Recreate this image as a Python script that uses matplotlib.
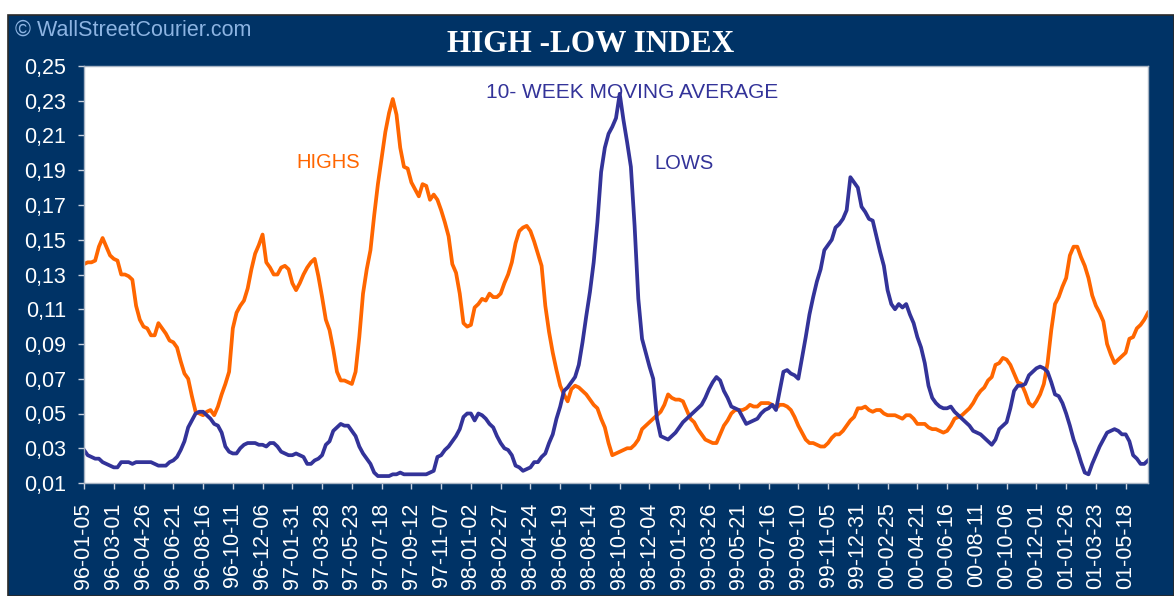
import numpy as np
import matplotlib
matplotlib.use("Agg")
import matplotlib.pyplot as plt
from matplotlib.patches import Rectangle

# ── DATA (10-week moving average, weekly from 96-01-05) ─────────────────────
highs = [
    0.136, 0.137, 0.137, 0.138, 0.146, 0.151, 0.146, 0.141, 0.139, 0.138,
    0.130, 0.130, 0.129, 0.127, 0.112, 0.104, 0.100, 0.099, 0.095, 0.095,
    0.102, 0.099, 0.096, 0.092, 0.091, 0.088, 0.080, 0.073, 0.070, 0.060,
    0.051, 0.050, 0.049, 0.051, 0.052, 0.049, 0.054, 0.061, 0.067, 0.074,
    0.099, 0.108, 0.112, 0.115, 0.122, 0.133, 0.142, 0.147, 0.153, 0.137,
    0.134, 0.130, 0.130, 0.134, 0.135, 0.133, 0.125, 0.121, 0.125, 0.130,
    0.134, 0.137, 0.139, 0.129, 0.117, 0.104, 0.098, 0.087, 0.074, 0.069,
    0.069, 0.068, 0.067, 0.074, 0.094, 0.119, 0.133, 0.144, 0.164, 0.182,
    0.197, 0.212, 0.223, 0.231, 0.222, 0.203, 0.192, 0.191, 0.183, 0.179,
    0.175, 0.182, 0.181, 0.173, 0.176, 0.173, 0.167, 0.160, 0.152, 0.136,
    0.131, 0.119, 0.102, 0.100, 0.101, 0.111, 0.113, 0.116, 0.115, 0.119,
    0.117, 0.117, 0.119, 0.125, 0.130, 0.137, 0.148, 0.155, 0.157, 0.158,
    0.155, 0.149, 0.142, 0.135, 0.112, 0.097, 0.085, 0.075, 0.066, 0.061,
    0.057, 0.064, 0.066, 0.065, 0.063, 0.061, 0.058, 0.055, 0.053, 0.047,
    0.042, 0.033, 0.026, 0.027, 0.028, 0.029, 0.030, 0.030, 0.032, 0.035,
    0.041, 0.043, 0.045, 0.047, 0.049, 0.051, 0.055, 0.061, 0.059, 0.058,
    0.058, 0.057, 0.052, 0.047, 0.045, 0.041, 0.038, 0.035, 0.034, 0.033,
    0.033, 0.038, 0.043, 0.046, 0.050, 0.052, 0.052, 0.052, 0.053, 0.055,
    0.054, 0.054, 0.056, 0.056, 0.056, 0.055, 0.053, 0.055, 0.055, 0.054,
    0.052, 0.048, 0.043, 0.039, 0.035, 0.033, 0.033, 0.032, 0.031, 0.031,
    0.033, 0.036, 0.038, 0.038, 0.040, 0.043, 0.046, 0.048, 0.053, 0.053,
    0.054, 0.052, 0.051, 0.052, 0.052, 0.050, 0.049, 0.049, 0.049, 0.048,
    0.047, 0.049, 0.049, 0.047, 0.044, 0.044, 0.044, 0.042, 0.041, 0.041,
    0.040, 0.039, 0.040, 0.043, 0.047, 0.048, 0.049, 0.051, 0.053, 0.056,
    0.060, 0.063, 0.065, 0.069, 0.071, 0.078, 0.079, 0.082, 0.081, 0.078,
    0.073, 0.068, 0.067, 0.062, 0.056, 0.054, 0.057, 0.061, 0.067, 0.079,
    0.098, 0.113, 0.117, 0.123, 0.128, 0.141, 0.146, 0.146, 0.140, 0.135,
    0.128, 0.118, 0.112, 0.108, 0.103, 0.090, 0.084, 0.079, 0.081, 0.083,
    0.085, 0.093, 0.094, 0.099, 0.101, 0.104, 0.108,
]

lows = [
    0.029, 0.026, 0.025, 0.024, 0.024, 0.022, 0.021, 0.020, 0.019, 0.019,
    0.022, 0.022, 0.022, 0.021, 0.022, 0.022, 0.022, 0.022, 0.022, 0.021,
    0.020, 0.020, 0.020, 0.022, 0.023, 0.025, 0.029, 0.034, 0.042, 0.046,
    0.050, 0.051, 0.051, 0.049, 0.047, 0.044, 0.043, 0.039, 0.031, 0.028,
    0.027, 0.027, 0.030, 0.032, 0.033, 0.033, 0.033, 0.032, 0.032, 0.031,
    0.033, 0.033, 0.031, 0.028, 0.027, 0.026, 0.026, 0.027, 0.026, 0.025,
    0.021, 0.021, 0.023, 0.024, 0.026, 0.032, 0.034, 0.040, 0.042, 0.044,
    0.043, 0.043, 0.040, 0.037, 0.031, 0.027, 0.024, 0.021, 0.016, 0.014,
    0.014, 0.014, 0.014, 0.015, 0.015, 0.016, 0.015, 0.015, 0.015, 0.015,
    0.015, 0.015, 0.015, 0.016, 0.017, 0.025, 0.026, 0.029, 0.031, 0.034,
    0.037, 0.041, 0.048, 0.050, 0.050, 0.046, 0.050, 0.049, 0.047, 0.044,
    0.042, 0.037, 0.033, 0.030, 0.029, 0.026, 0.020, 0.019, 0.017, 0.018,
    0.019, 0.022, 0.022, 0.025, 0.027, 0.033, 0.038, 0.047, 0.054, 0.063,
    0.065, 0.068, 0.071, 0.078, 0.091, 0.106, 0.120, 0.137, 0.160, 0.189,
    0.203, 0.211, 0.215, 0.220, 0.234, 0.219, 0.206, 0.192, 0.158, 0.116,
    0.093, 0.085, 0.077, 0.070, 0.047, 0.037, 0.036, 0.035, 0.037, 0.039,
    0.042, 0.045, 0.047, 0.049, 0.051, 0.053, 0.055, 0.059, 0.064, 0.068,
    0.071, 0.069, 0.063, 0.059, 0.054, 0.053, 0.052, 0.048, 0.044, 0.045,
    0.046, 0.047, 0.050, 0.052, 0.053, 0.055, 0.052, 0.063, 0.074, 0.075,
    0.073, 0.072, 0.070, 0.082, 0.094, 0.107, 0.117, 0.126, 0.133, 0.144,
    0.147, 0.150, 0.157, 0.159, 0.162, 0.167, 0.186, 0.183, 0.180, 0.169,
    0.166, 0.162, 0.161, 0.152, 0.143, 0.135, 0.121, 0.113, 0.110, 0.113,
    0.111, 0.113, 0.107, 0.102, 0.094, 0.088, 0.079, 0.066, 0.059, 0.056,
    0.054, 0.053, 0.053, 0.054, 0.051, 0.049, 0.047, 0.045, 0.043, 0.040,
    0.039, 0.038, 0.036, 0.034, 0.032, 0.035, 0.041, 0.043, 0.045, 0.053,
    0.063, 0.066, 0.066, 0.067, 0.072, 0.074, 0.076, 0.077, 0.076, 0.074,
    0.068, 0.061, 0.060, 0.056, 0.050, 0.043, 0.035, 0.029, 0.022, 0.016,
    0.015, 0.021, 0.026, 0.031, 0.035, 0.039, 0.040, 0.041, 0.040, 0.038,
    0.038, 0.034, 0.026, 0.024, 0.021, 0.021, 0.023,
]

date_labels = [
    "96-01-05", "96-03-01", "96-04-26", "96-06-21", "96-08-16", "96-10-11",
    "96-12-06", "97-01-31", "97-03-28", "97-05-23", "97-07-18", "97-09-12",
    "97-11-07", "98-01-02", "98-02-27", "98-04-24", "98-06-19", "98-08-14",
    "98-10-09", "98-12-04", "99-01-29", "99-03-26", "99-05-21", "99-07-16",
    "99-09-10", "99-11-05", "99-12-31", "00-02-25", "00-04-21", "00-06-16",
    "00-08-11", "00-10-06", "00-12-01", "01-01-26", "01-03-23", "01-05-18",
]
y_ticks = [0.01, 0.03, 0.05, 0.07, 0.09, 0.11, 0.13, 0.15, 0.17, 0.19, 0.21, 0.23, 0.25]

# ── STYLE ───────────────────────────────────────────────────────────────────
NAVY   = "#003366"
ORANGE = "#FF6600"
BLUE   = "#333399"
plt.rcParams["font.family"] = ["Liberation Sans", "DejaVu Sans"]

W, H = 1174, 596
fig = plt.figure(figsize=(W / 100, H / 100), dpi=100, facecolor="white")
fig.patches.append(Rectangle((8 / W, 0), 1 - 8 / W, 1 - 15 / H,
                             transform=fig.transFigure, facecolor=NAVY,
                             edgecolor="#2a2a2a", lw=1.2, zorder=-5))

ax = fig.add_axes([84 / W, 1 - 483 / H, (1148 - 84) / W, (483 - 66) / H])
ax.set_zorder(2)
ax.set_facecolor("white")

x = np.arange(len(highs))
ax.plot(x, highs, color=ORANGE, lw=2.7, solid_joinstyle="round")
ax.plot(x, lows,  color=BLUE,   lw=2.7, solid_joinstyle="round")

ax.set_xlim(0, len(highs) - 1)
ax.set_ylim(0.01, 0.25)
ax.set_yticks(y_ticks)
ax.set_yticklabels([f"{v:.2f}".replace(".", ",") for v in y_ticks])
ax.set_xticks(np.arange(0, len(highs), 8)[:len(date_labels)])
ax.set_xticklabels(date_labels, rotation=90)

ax.tick_params(axis="both", colors="#C8D0DC", labelcolor="white",
               labelsize=15.5, length=4, width=1, direction="out")
ax.tick_params(axis="y", pad=9)
ax.tick_params(axis="x", pad=10)
for sp in ax.spines.values():
    sp.set_color("#A8B4C4")
    sp.set_linewidth(1)

# ── TEXTS ───────────────────────────────────────────────────────────────────
fig.text(15 / W, 1 - 30 / H, "© WallStreetCourier.com", color="#8DB4E2",
         fontsize=15.5, ha="left", va="center")
fig.text(591 / W, 1 - 44 / H, "HIGH -LOW INDEX", color="white",
         fontsize=22.5, fontweight="bold", family=["Liberation Serif"],
         ha="center", va="center")
ax.text(632 / W, 1 - 93 / H, "10- WEEK MOVING AVERAGE", color=BLUE,
        fontsize=15, ha="center", va="center", transform=fig.transFigure)
ax.text(328 / W, 1 - 163 / H, "HIGHS", color=ORANGE,
        fontsize=14.5, ha="center", va="center", transform=fig.transFigure)
ax.text(684 / W, 1 - 164 / H, "LOWS", color=BLUE,
        fontsize=14.5, ha="center", va="center", transform=fig.transFigure)

plt.savefig("out.png", dpi=100, facecolor=fig.get_facecolor())
plt.close()
